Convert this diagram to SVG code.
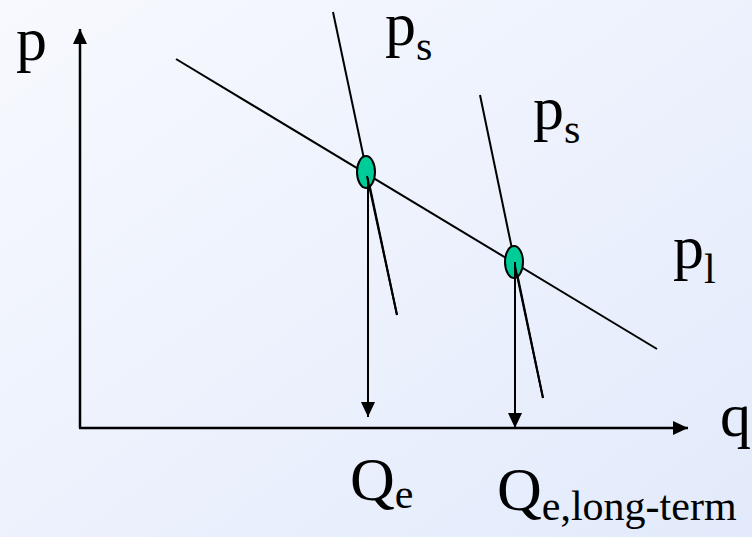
<svg xmlns="http://www.w3.org/2000/svg" width="752" height="537" viewBox="0 0 752 537">
<defs>
<linearGradient id="bg" x1="0" y1="0" x2="1" y2="1">
<stop offset="0" stop-color="#f7f9fe"/>
<stop offset="1" stop-color="#e2eafb"/>
</linearGradient>
<marker id="arr" markerUnits="userSpaceOnUse" markerWidth="16" markerHeight="14" refX="15" refY="7" orient="auto">
<path d="M0,0 L15,7 L0,14 z" fill="#000"/>
</marker>
</defs>
<style>
.ln{stroke:#000;stroke-width:2;fill:none}
.ax{stroke:#000;stroke-width:2.5;fill:none}
.pt{fill:#00cc99;stroke:#000;stroke-width:2}
.lbl{font-family:"Liberation Serif","DejaVu Serif",serif;font-size:62px;fill:#000}
.sub{font-size:42px}
</style>
<rect width="752" height="537" fill="url(#bg)"/>
<g id="connectors">
<line class="ax" x1="80" y1="428" x2="80" y2="29" marker-end="url(#arr)"/>
<line class="ax" x1="79" y1="428" x2="688" y2="428" marker-end="url(#arr)"/>
<line id="demand" class="ln" x1="176" y1="59" x2="657" y2="349"/>
<line id="supply1" class="ln" x1="333" y1="12" x2="397" y2="315"/>
<line id="supply2" class="ln" x1="480" y1="95" x2="543" y2="398"/>
</g>
<g id="eq1">
<ellipse class="pt" cx="366" cy="172" rx="9" ry="16"/>
</g>
<g id="eq2">
<ellipse class="pt" cx="514" cy="262" rx="9" ry="16"/>
</g>
<g id="connectors-front">
<line class="ln" x1="367" y1="176" x2="397" y2="315"/>
<line class="ln" x1="515" y1="266" x2="543" y2="398"/>
<line class="ln" x1="368" y1="178" x2="368" y2="417" marker-end="url(#arr)"/>
<line class="ln" x1="515" y1="262" x2="515" y2="428" marker-end="url(#arr)"/>
</g>
<g id="labels">
<text class="lbl" x="16" y="60">p</text>
<text class="lbl" x="385" y="45">p<tspan class="sub" dy="15">s</tspan></text>
<text class="lbl" x="533" y="129">p<tspan class="sub" dy="14">s</tspan></text>
<text class="lbl" x="673" y="268">p<tspan class="sub" dy="15">l</tspan></text>
<text class="lbl" x="720" y="436">q</text>
<text class="lbl" x="350" y="500">Q<tspan class="sub" dy="8">e</tspan></text>
<text class="lbl" x="497" y="510">Q<tspan class="sub" dy="10">e,long-term</tspan></text>
</g>
</svg>
